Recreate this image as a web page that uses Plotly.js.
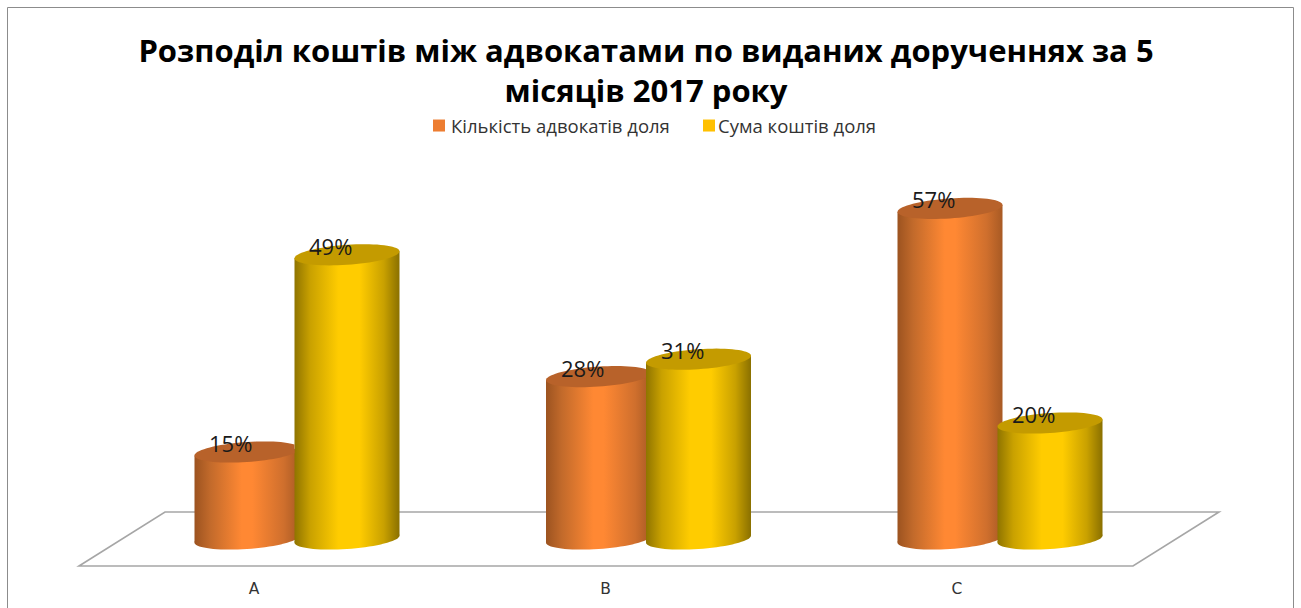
<!DOCTYPE html>
<html><head><meta charset="utf-8">
<script src="https://cdn.plot.ly/plotly-3.0.1.min.js"></script>
<style>html,body{margin:0;padding:0;background:#fff;overflow:hidden}</style>
</head><body><div id="chart" style="width:1301px;height:608px"></div>
<script>
const categories = ['A', 'B', 'C'];
const seriesNames = ['Кількість адвокатів доля', 'Сума коштів доля'];
const advocatesShare = [15, 28, 57];
const fundsShare = [49, 31, 20];
const titleText = 'Розподіл коштів між адвокатами по виданих дорученнях за 5<br>місяців 2017 року';

const W = 1301, H = 608;
const M = {l: 79, r: 82, t: 140, b: 42};
const plotW = W - M.l - M.r, plotH = H - M.t - M.b;
const xPerCat = 351.5, yScale = 5.8, basePx = 539, firstTick = 254, tiltPx = 3.5;
const xRange = [(M.l - firstTick) / xPerCat, (W - M.r - firstTick) / xPerCat];
const yRange = [(basePx - (H - M.b)) / yScale, (basePx - M.t) / yScale];
const barW = 105 / xPerCat;
const off = [-7 / xPerCat - barW / 2, 93 / xPerCat - barW / 2];
const rx = barW / 2, ry = 10 / yScale, tilt = tiltPx / yScale;
const xs = categories.map((c, i) => i);
const fontFam = '"Open Sans", sans-serif';

const px = x => (x - M.l) / plotW;
const py = y => (H - M.b - y) / plotH;

function ellipse(cx, cy, xmax) {
  let pts = [];
  for (let k = 0; k < 72; k++) {
    const t = k / 72 * 2 * Math.PI;
    const X = Math.min(cx + rx * Math.cos(t), xmax);
    const Y = cy + ry * Math.sin(t) + tilt * Math.cos(t);
    pts.push((k ? 'L' : 'M') + X.toFixed(4) + ',' + Y.toFixed(4));
  }
  return pts.join(' ') + ' Z';
}

const traces = [advocatesShare, fundsShare].map((vals, s) => ({
  type: 'bar', name: seriesNames[s], x: xs, y: vals,
  width: barW, offset: off[s],
  marker: {color: s ? '#ffc000' : '#ed7d31', line: {width: 0}},
  hoverinfo: 'skip'
}));

const shapes = [];
// floor and chart frame
shapes.push({type: 'path', layer: 'below', xref: 'paper', yref: 'paper',
  path: `M${px(79)},${py(566)} L${px(165)},${py(512)} L${px(1219)},${py(512)} L${px(1133)},${py(566)} Z`,
  line: {color: '#a6a6a6', width: 1.6}, fillcolor: 'rgba(0,0,0,0)'});
shapes.push({type: 'path', layer: 'below', xref: 'paper', yref: 'paper',
  path: `M${px(7.5)},${py(610)} L${px(7.5)},${py(7.5)} L${px(1293.5)},${py(7.5)} L${px(1293.5)},${py(610)}`,
  line: {color: '#8c8c8c', width: 1}, fillcolor: 'rgba(0,0,0,0)'});
const gradShapes = [];
// bottom caps
[0, 1].forEach(s => xs.forEach(i => {
  gradShapes.push([shapes.length, s === 0 ? 'gO' : 'gY']);
  shapes.push({type: 'path', layer: 'below', xref: 'x', yref: 'y',
    path: ellipse(i + off[s] + rx, 0, 99), line: {width: 0}, fillcolor: s ? '#ffc000' : '#ed7d31'});
}));
// top caps
[0, 1].forEach(s => xs.forEach(i => {
  const v = s ? fundsShare[i] : advocatesShare[i];
  const clip = (s === 0 && fundsShare[i] > advocatesShare[i]) ? i + off[1] : 99;
  shapes.push({type: 'path', layer: 'above', xref: 'x', yref: 'y',
    path: ellipse(i + off[s] + rx, v, clip), line: {width: 0},
    fillcolor: s ? '#c49b00' : '#b8622a'});
}));

const annotations = [];
[advocatesShare, fundsShare].forEach((vals, s) => xs.forEach(i => {
  annotations.push({x: i + off[s] + rx, y: vals[i], xref: 'x', yref: 'y', text: vals[i] + '%',
    showarrow: false, xshift: -16.5, yshift: 9, font: {family: fontFam, size: 22, color: '#1a1a1a'}});
}));

const layout = {
  width: W, height: H, margin: M, paper_bgcolor: '#fff', plot_bgcolor: 'rgba(0,0,0,0)',
  barmode: 'overlay', showlegend: true,
  title: {text: titleText, x: 646 / W, xanchor: 'center', y: 1 - 62 / H, yanchor: 'middle',
    font: {family: fontFam, size: 31, color: '#000', weight: 700}},
  legend: {orientation: 'h', x: px(411), xanchor: 'left', y: py(126), yanchor: 'middle',
    font: {family: fontFam, size: 18.5, color: '#333'}, entrywidth: 222, entrywidthmode: 'pixels',
    itemclick: false, itemdoubleclick: false, bgcolor: 'rgba(0,0,0,0)'},
  xaxis: {type: 'linear', range: xRange, tickvals: xs, ticktext: categories, showgrid: false,
    zeroline: false, showline: false, ticks: 'outside', ticklen: 8, tickcolor: 'rgba(0,0,0,0)',
    tickfont: {family: '"DejaVu Sans", sans-serif', size: 15.5, color: '#333'}, automargin: false},
  yaxis: {range: yRange, visible: false, automargin: false},
  shapes, annotations
};

const gd = document.getElementById('chart');
Plotly.newPlot(gd, traces, layout, {displayModeBar: false, staticPlot: true}).then(() => {
  const NS = 'http://www.w3.org/2000/svg';
  const svg = gd.querySelector('svg.main-svg');
  let defs = svg.querySelector('defs');
  const addGrad = (id, stops) => {
    const g = document.createElementNS(NS, 'linearGradient');
    g.setAttribute('id', id); g.setAttribute('x1', '0'); g.setAttribute('x2', '1');
    g.setAttribute('y1', '0'); g.setAttribute('y2', '0');
    stops.forEach(([o, c]) => {
      const st = document.createElementNS(NS, 'stop');
      st.setAttribute('offset', o); st.setAttribute('stop-color', c); g.appendChild(st);
    });
    defs.appendChild(g);
  };
  addGrad('gO', [[0, '#9c5320'], [0.15, '#c26a2b'], [0.45, '#ff8833'], [0.55, '#ff8833'], [0.85, '#cf6f2d'], [1, '#a85a24']]);
  addGrad('gY', [[0, '#8f7400'], [0.15, '#c9a100'], [0.42, '#ffcc00'], [0.62, '#ffcc00'], [0.85, '#c9a100'], [1, '#8a7000']]);
  gd.querySelectorAll('.barlayer .trace').forEach((tr, s) => {
    tr.querySelectorAll('.point path').forEach(p => {
      const nums = p.getAttribute('d').match(/-?\d+(\.\d+)?/g).map(Number);
      const x0 = nums[0], y0 = nums[1], y1 = nums[2], x1 = nums[3];
      p.setAttribute('d', `M${x0},${y0 + tiltPx}L${x0},${y1 + tiltPx}L${x1},${y1 - tiltPx}L${x1},${y0 - tiltPx}Z`);
      p.style.setProperty('fill', `url(#${s ? 'gY' : 'gO'})`);
    });
  });
  gradShapes.forEach(([idx, g]) => {
    gd.querySelectorAll(`.shapelayer path[data-index="${idx}"]`).forEach(el => el.style.setProperty('fill', `url(#${g})`));
  });
  // legend swatches sit closer to their labels
  const nudges = [8, 11];
  gd.querySelectorAll('.legend .traces').forEach((t, i) => {
    const lp = t.querySelector('.legendpoints');
    if (lp) lp.setAttribute('transform', `translate(${nudges[i]},0)`);
  });
});
</script></body></html>
